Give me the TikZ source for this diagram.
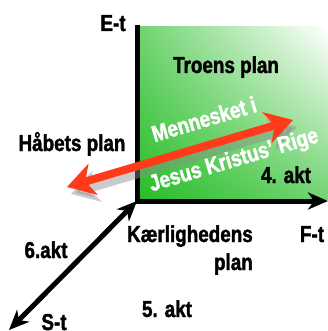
\documentclass[tikz,border=0pt]{standalone}
\usepackage{fontspec}
\newfontfamily\labelfont{Liberation Sans}[UprightFont={* Bold}, FakeStretch=0.82, FakeBold=1.6]
\usetikzlibrary{arrows.meta,shadings}
\definecolor{arrowred}{HTML}{FF3B1A}
\definecolor{deepgreen}{RGB}{40,190,40}
\definecolor{midgreen}{RGB}{115,212,115}

\begin{document}
\begin{tikzpicture}[
  x=1pt, y=1pt,
  lbl/.style={font=\fontsize{23}{28}\selectfont\labelfont, inner sep=0pt},
  wlbl/.style={lbl, text=white, rotate=16.5},
  axis/.style={line width=5pt},
  axistip/.tip={Stealth[length=20pt, width=17pt, inset=6pt]},
  redtip/.tip={Stealth[length=27pt, width=32pt, inset=8pt]}
]
  \useasboundingbox (0,0) rectangle (328,-331);

  % the green plane
  \shade[lower left=deepgreen, upper right=white, upper left=midgreen,
         lower right=midgreen] (140,-27) rectangle (328,-199);

  \coordinate (O) at (137,-201);
  \coordinate (Etop) at (137,-25);
  \coordinate (Fend) at (328,-201);
  \coordinate (Send) at (9,-330);

  \draw[axis] (O) -- (Etop);
  \draw[axis, -axistip] ([xshift=-2.5pt]O) -- (Fend);
  \draw[axis, axistip-axistip] (O) -- (Send);

  \node[lbl, anchor=base] (Et) at (113,-31) {E-t};
  \node[lbl, anchor=base] (Ft) at (312,-242) {F-t};
  \node[lbl, anchor=base] (St) at (54,-330) {S-t};

  \node[lbl, anchor=base] (troen) at (226,-73) {Troens plan};
  \node[lbl, anchor=base] (haab) at (72,-151) {Håbets plan};
  \node[lbl, anchor=base east, align=right] (kaerlighed) at (253,-270) {Kærlighedens\\plan};

  \node[lbl, anchor=base] (akt4) at (286,-183) {4. akt};
  \node[lbl, anchor=base] (akt5) at (167,-317) {5. akt};
  \node[lbl, anchor=base] (akt6) at (46,-258) {6.akt};

  % the red arrow with its shadow
  \coordinate (rl) at (67,-187);
  \coordinate (rr) at (293,-120);
  \draw[line width=8pt, black!45, opacity=0.45, redtip-redtip]
    ([shift={(4,-7)}]rl) -- ([shift={(4,-7)}]rr);
  \draw[line width=8pt, arrowred, redtip-redtip] (rl) -- (rr);

  \node[wlbl] (menneske) at (204,-119) {Mennesket i};
  \node[wlbl] (rige) at (234,-161) {Jesus Kristus’ Rige};
\end{tikzpicture}
\end{document}
